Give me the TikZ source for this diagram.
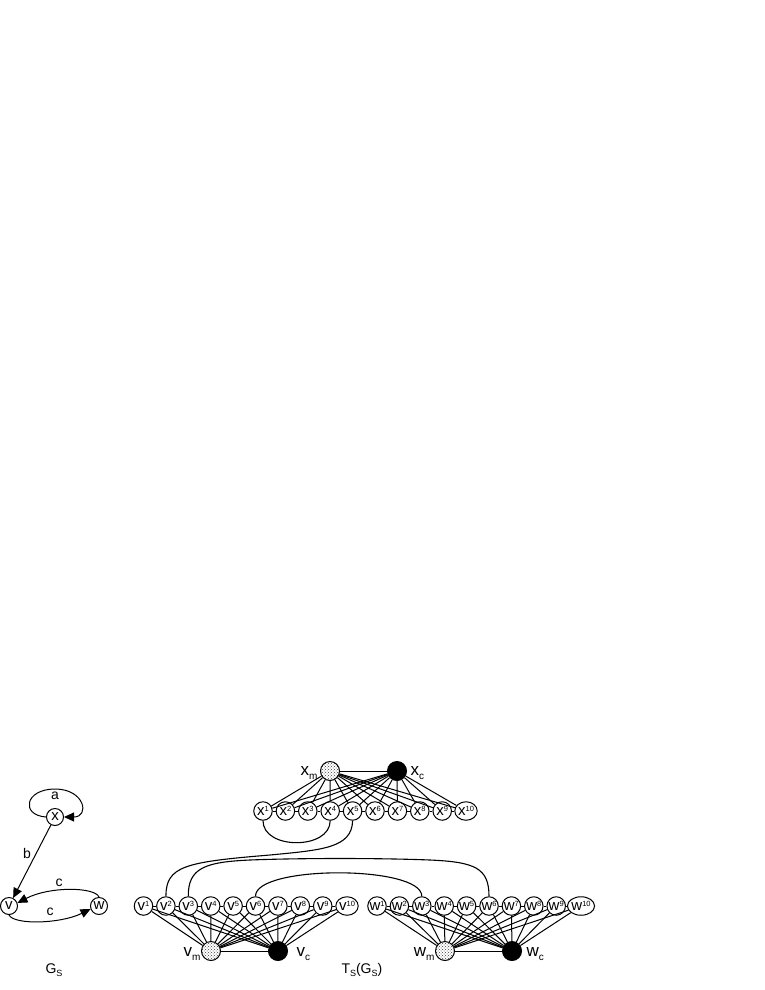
\documentclass[tikz,border=0pt]{standalone}
\usepackage{fontspec}
\setmainfont{Liberation Sans}
\usetikzlibrary{arrows.meta,patterns,shapes.geometric}
\newcommand{\mysup}[1]{\raisebox{3.8pt}{\fontsize{7.5}{7.5}\selectfont #1}}
\newcommand{\mysub}[1]{\raisebox{-3.5pt}{\fontsize{10}{10}\selectfont #1}}
\newcommand{\mysubs}[1]{\raisebox{-3pt}{\fontsize{9}{9}\selectfont #1}}
\begin{document}
\begin{tikzpicture}[x=1pt,y=-1pt,line width=1pt,
  rv/.style={circle,draw,fill=white,minimum size=18.5pt,inner sep=0pt,font=\fontsize{15}{15}\selectfont},
  rvt/.style={ellipse,draw,fill=white,minimum width=21pt,minimum height=18.5pt,inner sep=0pt,font=\fontsize{15}{15}\selectfont},
  mn/.style={circle,draw,minimum size=19pt,inner sep=0pt,preaction={fill=white},pattern=crosshatch dots,pattern color=black!75},
  cn/.style={circle,draw,fill=black,minimum size=19pt,inner sep=0pt},
  gv/.style={circle,draw,minimum size=17pt,inner sep=0pt,font=\fontsize{15}{15}\selectfont},
  lbl/.style={font=\fontsize{14}{14}\selectfont,inner sep=0pt},
  big/.style={font=\fontsize{17}{17}\selectfont,inner sep=0pt},
  arr/.style={-{Triangle[length=10pt,width=9pt]}},
  arcl/.style={line width=1.1pt}
]
\fill[white] (0,0) rectangle (765,990);
\useasboundingbox (0,0) rectangle (765,990);

% ---------- G_S ----------
\node[gv] (gx) at (55,817) {x};
\node[gv] (gv) at (9,906) {v};
\node[gv] (gw) at (99,906) {w};
\draw[arr] (gx.west) .. controls (20,815) and (25,789) .. (55,789) .. controls (85,789) and (90,817) .. (gx.east);
\node[lbl] (la) at (55,796) {a};
\draw[arr] (gx) -- (gv);
\node[lbl] (lb) at (27,853) {b};
\draw[arr] (gw.north) .. controls (95,887) and (50,886) .. (gv.20);
\node[lbl] (lc1) at (59,883) {c};
\draw[arr] (gv.south) .. controls (14,925) and (60,924) .. (gw.200);
\node[lbl] (lc2) at (50,912) {c};
\node[lbl,anchor=base west] (lgs) at (45,973) {G\mysubs{S}};

% ---------- T_S(G_S) ----------
% x row
\foreach \i in {1,...,9}
  \node[rv] (x\i) at ({263+22.4*(\i-1)},811) {x\mysup{\i}};
\node[rvt] (x10) at (466,811) {x\mysup{10}};
\node[mn] (xm) at (330,771) {};
\node[cn] (xc) at (397,771) {};
\node[big,anchor=base east] (lxm) at (318,775.5) {x\mysub{m}};
\node[big,anchor=base west] (lxc) at (410,775.5) {x\mysub{c}};

% v row
\foreach \i in {1,...,9}
  \node[rv] (v\i) at ({143.5+22.4*(\i-1)},906) {v\mysup{\i}};
\node[rvt] (v10) at (347,906) {v\mysup{10}};
\node[mn] (vm) at (211,951) {};
\node[cn] (vc) at (278,951) {};
\node[big,anchor=base east] (lvm) at (201,956.5) {v\mysub{m}};
\node[big,anchor=base west] (lvc) at (296,956.5) {v\mysub{c}};

% w row
\foreach \i in {1,...,9}
  \node[rv] (w\i) at ({377+22.4*(\i-1)},906) {w\mysup{\i}};
\node[rvt] (w10) at (581,906) {w\mysup{10}};
\node[mn] (wm) at (445,951) {};
\node[cn] (wc) at (512,951) {};
\node[big,anchor=base east] (lwm) at (435,956.5) {w\mysub{m}};
\node[big,anchor=base west] (lwc) at (526,956.5) {w\mysub{c}};

\node[lbl,anchor=base west] (lts) at (341,973) {T\mysubs{S}(G\mysubs{S})};

% chains and m-c edges
\foreach \r in {x,v,w} {
  \foreach \i [evaluate=\i as \j using int(\i+1)] in {1,...,9}
    \draw (\r\i) -- (\r\j);
  \draw (\r m) -- (\r c);
  \foreach \i in {1,...,10} {
    \draw (\r m) -- (\r\i);
    \draw (\r c) -- (\r\i);
  }
}

% long curves
\draw[arcl] (x1.south) .. controls (263,850) and (330,850) .. (x4.south);
\draw[arcl] (x5.south) .. controls (352,848) and (322,850) .. (270,855) .. controls (185,862) and (166,866) .. (v2.north);
\draw[arcl] (v3.north) .. controls (188,868) and (205,862) .. (250,860) .. controls (300,858) and (380,858) .. (430,860) .. controls (475,862) and (489,868) .. (w6.north);
\draw[arcl] (v6.north) .. controls (255,865) and (422,865) .. (w3.north);
\end{tikzpicture}
\end{document}
